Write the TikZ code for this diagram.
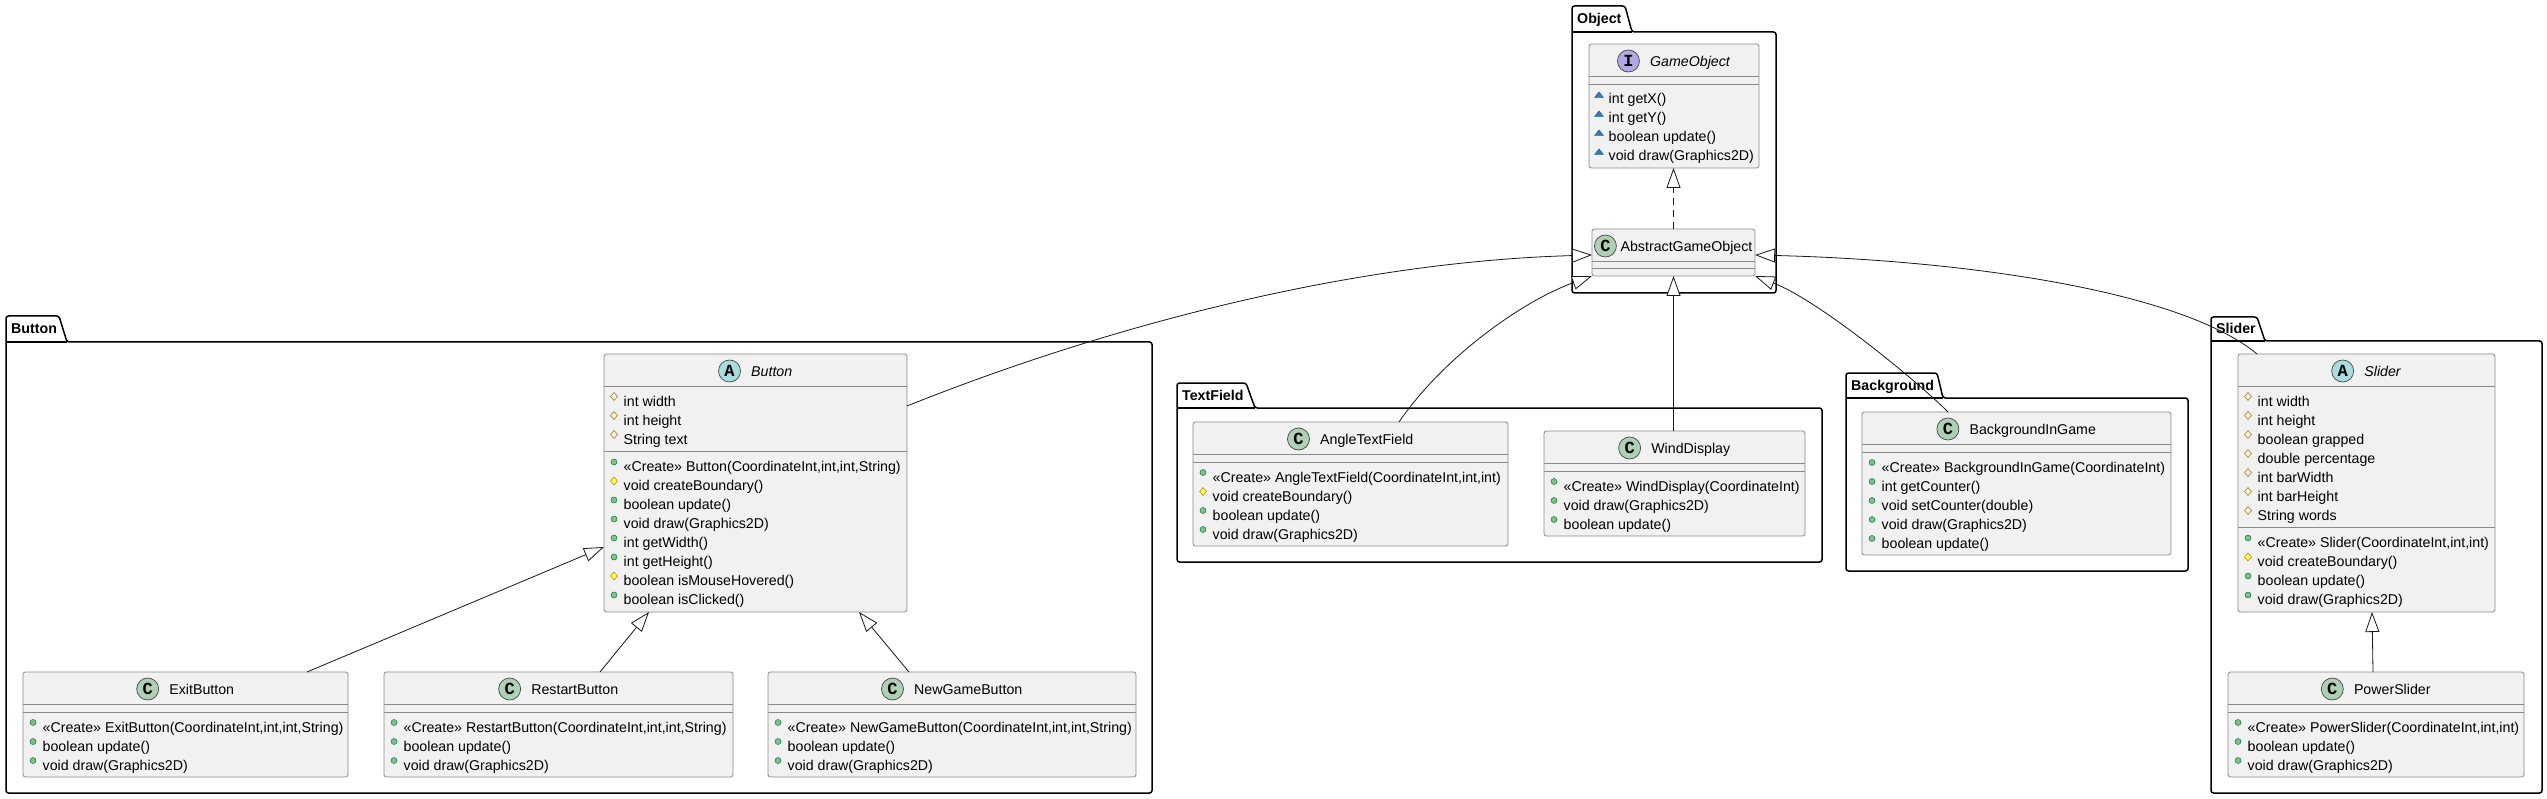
\documentclass[tikz,border=0pt]{standalone}
\usepackage{fontspec}
\setmainfont{Liberation Sans}
\newfontfamily\monofam{Liberation Mono}
\usetikzlibrary{arrows.meta,calc}
\definecolor{classfill}{HTML}{F1F1F1}
\definecolor{classborder}{HTML}{8A8A8A}
\definecolor{lnk}{HTML}{181818}
\definecolor{pubfill}{HTML}{84BE84}
\definecolor{pubborder}{HTML}{038048}
\definecolor{profill}{HTML}{FFFF44}
\definecolor{proborder}{HTML}{B38D22}
\definecolor{pkgfill}{HTML}{4177AF}
\definecolor{pkgborder}{HTML}{1963A0}
\definecolor{circA}{HTML}{A9DCDF}
\definecolor{circC}{HTML}{ADD1B2}
\definecolor{circI}{HTML}{B4A7E5}
\newcommand\memfont{\fontsize{14.2}{17}\selectfont}
\newcommand\letterfont{\fontsize{17}{17}\selectfont\monofam\bfseries}
\newcommand\cls[5]{%
  \node[classbox, anchor=north west, minimum width={#4pt-#2pt}, minimum height={#5pt-#3pt}] (#1) at (#2,#3) {};}
\newcommand\sepl[3]{\draw[sepline] (#1,#3) -- (#2,#3);}
\newcommand\chead[8]{%
  \node[inner sep=0, anchor=base, font=\memfont] (#1h) at ({(#2+#3)/2},#4+22.5) {\hbox to #8pt{}#7};
  \node[circle, draw=lnk!80, fill=#6, line width=0.7pt, minimum size=22pt, inner sep=0, font=\letterfont] (#1c) at ([xshift=11pt,yshift=5.5pt]#1h.base west) {#5};
  \draw[sepline] (#2,#4+32) -- (#3,#4+32);}
\newcommand\icopub[2]{\filldraw[draw=pubborder, fill=pubfill, line width=0.5pt] (#1+10,#2-4.5) circle[radius=3pt];}
\newcommand\icoprom[2]{\filldraw[draw=proborder, fill=profill, line width=0.6pt] (#1+10,#2-8.5) -- (#1+13.5,#2-4.5) -- (#1+10,#2-0.5) -- (#1+6.5,#2-4.5) -- cycle;}
\newcommand\icoprof[2]{\draw[draw=proborder, line width=0.7pt] (#1+10,#2-8.5) -- (#1+13.5,#2-4.5) -- (#1+10,#2-0.5) -- (#1+6.5,#2-4.5) -- cycle;}
\newcommand\icopkg[2]{\filldraw[draw=pkgborder, fill=pkgfill, line width=0.5pt] (#1+5.5,#2-1.5) -- (#1+14.5,#2-1.5) -- (#1+10,#2-7) -- cycle;}
\newcommand\mem[4]{\csname ico#3\endcsname{#1}{#2}\node[memtext] at (#1+19.5,#2+5) {#4};}
\newcommand\pkg[9]{%
  \draw[pkgline] (#2,#6) -- (#2,#3) -- (#7,#3) -- (#8,#4) -- (#5,#4) -- (#5,#6) -- cycle;
  \draw[pkgline, rounded corners=0pt] (#2,#4) -- (#8,#4);
  \node[pkglabel] (#1) at (#2+5,{(#3+#4)/2+5}) {#9};}
\begin{document}
\begin{tikzpicture}[x=1pt,y=-1pt,
  classbox/.style={draw=classborder, fill=classfill, line width=0.8pt, rounded corners=2.5pt, inner sep=0pt, outer sep=0pt},
  sepline/.style={draw=classborder, line width=0.8pt},
  memtext/.style={inner sep=0pt, anchor=base west, font=\memfont},
  pkgline/.style={draw=black, line width=1.5pt, rounded corners=2.5pt},
  pkglabel/.style={inner sep=0pt, anchor=base west, font=\memfont\bfseries},
  inh/.style={draw=lnk, line width=0.8pt, -{Triangle[length=20pt,width=14pt,fill=white]}}]
\fill[white] (0,0) rectangle (2547,799);
\path[use as bounding box] (0,0) rectangle (2547,799);
% packages
\pkg{pObject}{1572}{6}{32}{1776}{293}{1625}{1632}{Object}
\pkg{pButton}{6}{316}{342}{1152}{793}{59}{67}{Button}
\pkg{pTextField}{1177}{383}{408}{1822}{562}{1246}{1255}{TextField}
\pkg{pBackground}{1846}{373}{398}{2188}{571}{1937}{1943}{Background}
\pkg{pSlider}{2211}{317}{341}{2542}{793}{2257}{2265}{Slider}
% GameObject
\cls{go}{1589}{44}{1759}{168}
\chead{go}{1589}{1759}{44}{I}{circI}{\textit{GameObject}}{32.5}
\sepl{1589}{1759}{84}
\mem{1589}{99}{pkg}{int getX()}
\mem{1589}{118}{pkg}{int getY()}
\mem{1589}{137}{pkg}{boolean update()}
\mem{1589}{156}{pkg}{void draw(Graphics2D)}
% AbstractGameObject
\cls{ago}{1592}{229}{1755}{276}
\chead{ago}{1592}{1755}{229}{C}{circC}{AbstractGameObject}{26}
\sepl{1592}{1755}{268}
% Button
\cls{button}{604}{354}{907}{612}
\chead{button}{604}{907}{354}{A}{circA}{\textit{Button}}{32.5}
\mem{604}{401}{prof}{int width}
\mem{604}{420}{prof}{int height}
\mem{604}{439}{prof}{String text}
\sepl{604}{907}{451.5}
\mem{604}{466.5}{pub}{«Create» Button(CoordinateInt,int,int,String)}
\mem{604}{485.5}{prom}{void createBoundary()}
\mem{604}{504.5}{pub}{boolean update()}
\mem{604}{523.5}{pub}{void draw(Graphics2D)}
\mem{604}{542.5}{pub}{int getWidth()}
\mem{604}{561.5}{pub}{int getHeight()}
\mem{604}{580.5}{prom}{boolean isMouseHovered()}
\mem{604}{599.5}{pub}{boolean isClicked()}
% ExitButton
\cls{exit}{23}{672}{348}{777}
\chead{exit}{23}{348}{672}{C}{circC}{ExitButton}{32.5}
\sepl{23}{348}{712}
\mem{23}{727}{pub}{«Create» ExitButton(CoordinateInt,int,int,String)}
\mem{23}{746}{pub}{boolean update()}
\mem{23}{765}{pub}{void draw(Graphics2D)}
% RestartButton
\cls{restart}{384}{672}{733}{777}
\chead{restart}{384}{733}{672}{C}{circC}{RestartButton}{32.5}
\sepl{384}{733}{712}
\mem{384}{727}{pub}{«Create» RestartButton(CoordinateInt,int,int,String)}
\mem{384}{746}{pub}{boolean update()}
\mem{384}{765}{pub}{void draw(Graphics2D)}
% NewGameButton
\cls{newgame}{768}{672}{1136}{777}
\chead{newgame}{768}{1136}{672}{C}{circC}{NewGameButton}{32.5}
\sepl{768}{1136}{712}
\mem{768}{727}{pub}{«Create» NewGameButton(CoordinateInt,int,int,String)}
\mem{768}{746}{pub}{boolean update()}
\mem{768}{765}{pub}{void draw(Graphics2D)}
% AngleTextField
\cls{atf}{1193}{422}{1508}{546}
\chead{atf}{1193}{1508}{422}{C}{circC}{AngleTextField}{32.5}
\sepl{1193}{1508}{462}
\mem{1193}{477}{pub}{«Create» AngleTextField(CoordinateInt,int,int)}
\mem{1193}{496}{prom}{void createBoundary()}
\mem{1193}{515}{pub}{boolean update()}
\mem{1193}{534}{pub}{void draw(Graphics2D)}
% WindDisplay
\cls{wd}{1544}{431}{1805}{536}
\chead{wd}{1544}{1805}{431}{C}{circC}{WindDisplay}{32.5}
\sepl{1544}{1805}{471}
\mem{1544}{486}{pub}{«Create» WindDisplay(CoordinateInt)}
\mem{1544}{505}{pub}{void draw(Graphics2D)}
\mem{1544}{524}{pub}{boolean update()}
% BackgroundInGame
\cls{bg}{1862}{412}{2171}{555}
\chead{bg}{1862}{2171}{412}{C}{circC}{BackgroundInGame}{32.5}
\sepl{1862}{2171}{452}
\mem{1862}{467}{pub}{«Create» BackgroundInGame(CoordinateInt)}
\mem{1862}{486}{pub}{int getCounter()}
\mem{1862}{505}{pub}{void setCounter(double)}
\mem{1862}{524}{pub}{void draw(Graphics2D)}
\mem{1862}{543}{pub}{boolean update()}
% Slider
\cls{slider}{2238}{354}{2495}{612}
\chead{slider}{2238}{2495}{354}{A}{circA}{\textit{Slider}}{32.5}
\mem{2238}{401}{prof}{int width}
\mem{2238}{420}{prof}{int height}
\mem{2238}{439}{prof}{boolean grapped}
\mem{2238}{458}{prof}{double percentage}
\mem{2238}{477}{prof}{int barWidth}
\mem{2238}{496}{prof}{int barHeight}
\mem{2238}{515}{prof}{String words}
\sepl{2238}{2495}{527.5}
\mem{2238}{542.5}{pub}{«Create» Slider(CoordinateInt,int,int)}
\mem{2238}{561.5}{prom}{void createBoundary()}
\mem{2238}{580.5}{pub}{boolean update()}
\mem{2238}{599.5}{pub}{void draw(Graphics2D)}
% PowerSlider
\cls{ps}{2228}{672}{2524}{777}
\chead{ps}{2228}{2524}{672}{C}{circC}{PowerSlider}{32.5}
\sepl{2228}{2524}{712}
\mem{2228}{727}{pub}{«Create» PowerSlider(CoordinateInt,int,int)}
\mem{2228}{746}{pub}{boolean update()}
\mem{2228}{765}{pub}{void draw(Graphics2D)}
% connectors
\draw[inh, dash pattern=on 7pt off 5pt] (ago.north) -- (ago.north |- go.south);
\draw[inh] (ago.south |- wd.north) -- (ago.south);
\draw[inh] ([xshift=284pt]exit.north west) -- ([yshift=-193pt]button.north west);
\draw[inh] ([xshift=216pt]restart.north west) -- ([xshift=45pt]button.south west);
\draw[inh] ([xshift=141pt]newgame.north west) -- ([xshift=255pt]button.south west);
\draw[inh] ([xshift=145pt]ps.north west) -- ([xshift=134pt]slider.south west);
\draw[inh] ([yshift=-52pt]button.north east) .. controls (1107,326) and (1350,262) .. ([yshift=-26pt]ago.north west);
\draw[inh] ([xshift=206pt]atf.north west) .. controls (1445,355) and (1525,300) .. (ago.south west);
\draw[inh] ([xshift=86pt]bg.north west) .. controls (1918,382) and (1820,301) .. (ago.south east);
\draw[inh] ([xshift=19pt]slider.north west) .. controls (2180,290) and (1960,260) .. ([yshift=-26pt]ago.north east);
\end{tikzpicture}
\end{document}
